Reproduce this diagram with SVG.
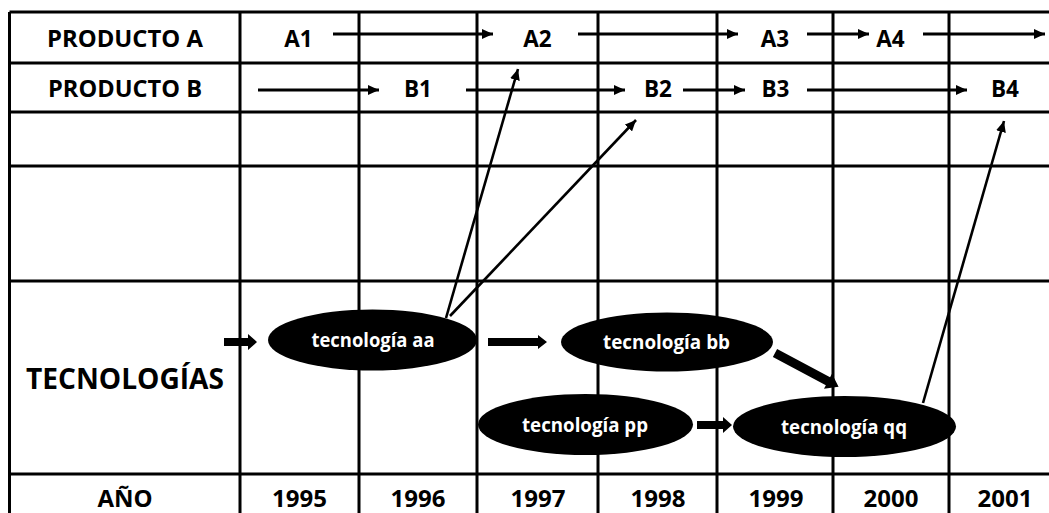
<svg xmlns="http://www.w3.org/2000/svg" width="1049" height="513" viewBox="0 0 1049 513">
<style>
.grid{stroke:#000;stroke-width:3;fill:none}
.t{font-family:"Open Sans","Noto Sans","Liberation Sans",sans-serif;font-weight:bold;fill:#000;text-anchor:middle}
.hdr{font-size:22.5px}
.yr{font-size:24px}
.big{font-size:28px}
.et{font-family:"Open Sans","Noto Sans","Liberation Sans",sans-serif;font-weight:bold;fill:#fff;text-anchor:middle;font-size:19px}
.ell{fill:#000}
.thin{stroke:#000;stroke-width:2.8;fill:none;marker-end:url(#ah)}
.diag{stroke:#000;stroke-width:2.6;fill:none;marker-end:url(#ah)}
.block{fill:#000}
</style>
<defs>
<marker id="ah" markerUnits="userSpaceOnUse" markerWidth="11" markerHeight="10" refX="11" refY="5" orient="auto">
<path d="M0,0 L11,5 L0,10 z" fill="#000"/>
</marker>
</defs>
<rect width="1049" height="513" fill="#fff"/>
<g id="grid">
<path class="grid" d="M9.5,12 H1060 M9.5,63 H1060 M9.5,112 H1060 M9.5,166 H1060 M9.5,281 H1060 M9.5,474 H1060"/>
<path class="grid" d="M9.5,12 V520 M240,12 V520 M359,12 V520 M477,12 V520 M598,12 V520 M717,12 V520 M833,12 V520 M949,12 V520"/>
</g>
<g id="labels">
<text class="t hdr" x="125" y="47" textLength="156" lengthAdjust="spacingAndGlyphs">PRODUCTO A</text>
<text class="t hdr" x="125" y="97" textLength="154" lengthAdjust="spacingAndGlyphs">PRODUCTO B</text>
<text class="t big" x="125" y="389" textLength="198" lengthAdjust="spacingAndGlyphs">TECNOLOGÍAS</text>
<text class="t yr" x="125" y="507">AÑO</text>
</g>
<g id="years">
<text class="t yr" x="299.5" y="507">1995</text>
<text class="t yr" x="418" y="507">1996</text>
<text class="t yr" x="538" y="507">1997</text>
<text class="t yr" x="658" y="507">1998</text>
<text class="t yr" x="776" y="507">1999</text>
<text class="t yr" x="891" y="507">2000</text>
<text class="t yr" x="1005" y="507">2001</text>
</g>
<g id="productA">
<text id="A1" class="t hdr" x="298.5" y="47">A1</text>
<text id="A2" class="t hdr" x="537.5" y="47">A2</text>
<text id="A3" class="t hdr" x="775" y="47">A3</text>
<text id="A4" class="t hdr" x="890.5" y="47">A4</text>
</g>
<g id="productB">
<text id="B1" class="t hdr" x="418" y="97">B1</text>
<text id="B2" class="t hdr" x="658" y="97">B2</text>
<text id="B3" class="t hdr" x="775.5" y="97">B3</text>
<text id="B4" class="t hdr" x="1005" y="97">B4</text>
</g>
<g id="tech-aa">
<ellipse class="ell" cx="372.5" cy="340" rx="104.5" ry="30.5"/>
<text class="et" x="373" y="347" textLength="123" lengthAdjust="spacingAndGlyphs">tecnología aa</text>
</g>
<g id="tech-bb">
<ellipse class="ell" cx="667" cy="342" rx="106" ry="29.5"/>
<text class="et" x="666.5" y="349" textLength="127" lengthAdjust="spacingAndGlyphs">tecnología bb</text>
</g>
<g id="tech-pp">
<ellipse class="ell" cx="585.5" cy="424.5" rx="107.5" ry="30.5"/>
<text class="et" x="585" y="432" textLength="126" lengthAdjust="spacingAndGlyphs">tecnología pp</text>
</g>
<g id="tech-qq">
<ellipse class="ell" cx="844.5" cy="426.5" rx="111.5" ry="30.5"/>
<text class="et" x="844" y="434" textLength="126" lengthAdjust="spacingAndGlyphs">tecnología qq</text>
</g>
<g id="connectors">
<line class="thin" x1="333" y1="34" x2="493" y2="34"/>
<line class="thin" x1="578" y1="34" x2="738" y2="34"/>
<line class="thin" x1="807" y1="34" x2="869" y2="34"/>
<line class="thin" x1="923" y1="34" x2="1045" y2="34"/>
<line class="thin" x1="258" y1="90" x2="379" y2="90"/>
<line class="thin" x1="466" y1="90" x2="625" y2="90"/>
<line class="thin" x1="683" y1="90" x2="745" y2="90"/>
<line class="thin" x1="807" y1="90" x2="967" y2="90"/>
<line class="diag" x1="446" y1="318" x2="518" y2="69"/>
<line class="diag" x1="450" y1="316" x2="636" y2="120"/>
<line class="diag" x1="923" y1="403" x2="1004" y2="121"/>
<polygon class="block" points="224,338 248,338 248,334 257,342 248,350 248,346 224,346"/>
<polygon class="block" points="488,338 538,338 538,335 547,342 538,349 538,346 488,346"/>
<polygon class="block" points="697,421 723,421 723,417 732,425 723,433 723,429 697,429"/>
<polygon class="block" transform="translate(775,353) rotate(28)" points="0,-4.5 60,-4.5 60,-8.5 72,0 60,8.5 60,4.5 0,4.5"/>
</g>
</svg>
